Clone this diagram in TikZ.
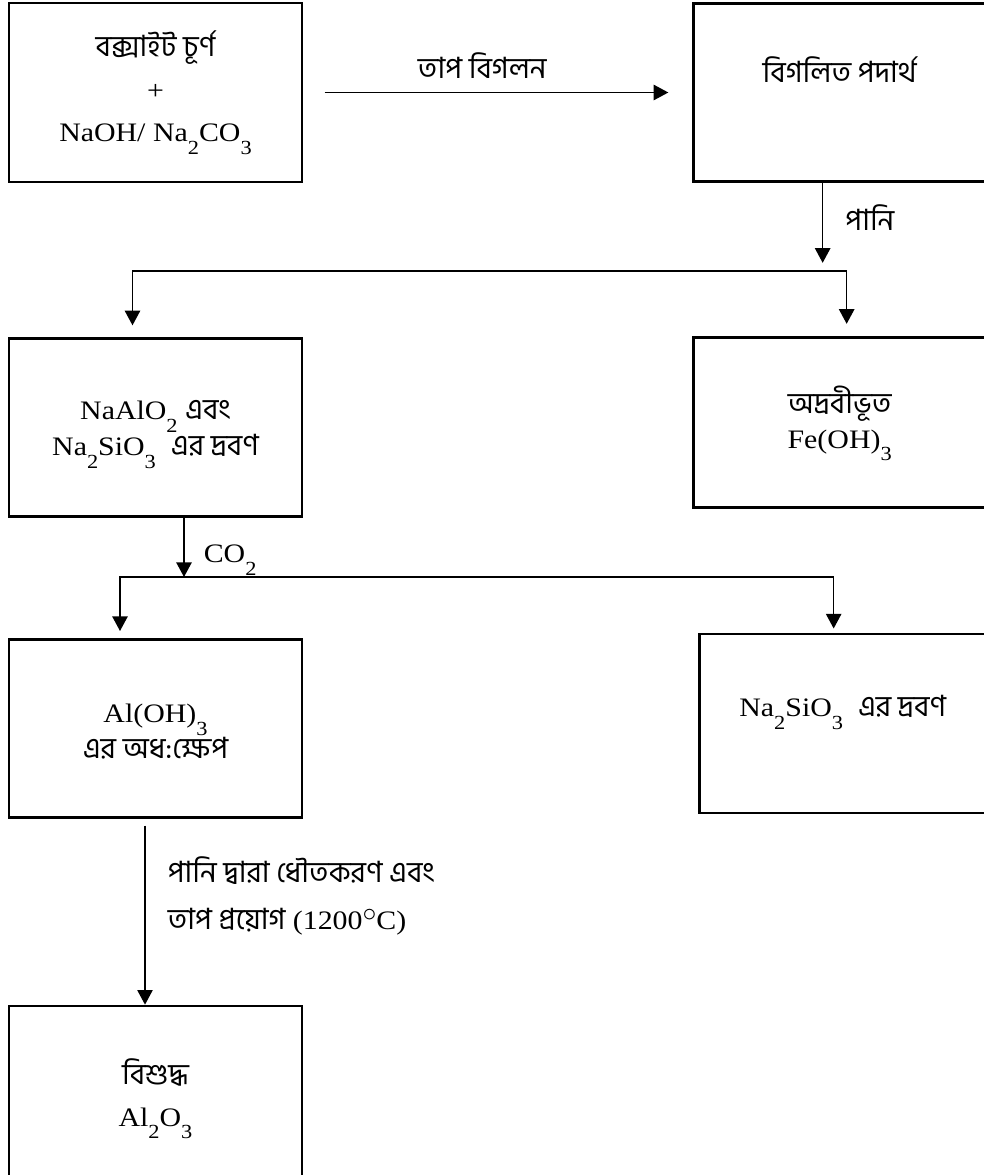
\documentclass[tikz,border=0pt]{standalone}
\usepackage{fontspec}
\setmainfont{Liberation Serif}[FakeStretch=1.12]
\newfontfamily\bn[Script=Bengali, Scale=1.1]{Hind Siliguri}
\usepackage{tikz}
\usetikzlibrary{positioning,arrows.meta,calc}

% chemical subscripts sit low and fairly large
\newcommand{\chsub}[1]{\raisebox{-0.48em}{\fontsize{15}{15}\selectfont #1}}
\newcommand{\degc}{\raisebox{0.3em}{$\circ$}}
\newcommand{\tightlines}{\lineskiplimit=-20pt\relax}

\tikzset{
  every node/.style={font={\fontsize{20}{24}\selectfont\tightlines}},
  % --- nodes
  stage/.style = {draw, line width=2pt, align=center, inner sep=0pt,
                  minimum width=219.75pt, minimum height=133.5pt},
  sink/.style  = {text height=#1, text depth=0pt},   % last baseline #1/2 below centre
  lift/.style  = {text height=0pt, text depth=#1},   % baseline #1/2 above centre
  cue/.style   = {inner sep=0pt},
  % --- edges
  flow/.style  = {-{Triangle[length=11pt,width=11.5pt]}, line width=1.2pt},
}

\begin{document}
\begin{tikzpicture}[x=0.75pt, y=-0.75pt]
  \useasboundingbox (0,0) rectangle (984,1175);

  % ------------------------------------------------------------------ fusion
  \node[stage, sink=74pt, minimum height=134.25pt] (bauxite) at (155.5,92.5) {%
    {\bn বক্সাইট চূর্ণ}\\[8pt] +\\[8pt] NaOH/ Na\chsub{2}CO\chsub{3}};
  \node[stage, lift=15pt, minimum width=219pt, right=291.75pt of bauxite] (melt)
    {\bn বিগলিত পদার্থ};

  % ------------------------------------------------------------------ leaching
  \node[stage, sink=42pt, below=115.5pt of bauxite] (aluminate) {%
    NaAlO\chsub{2} {\bn এবং}\\[3pt] Na\chsub{2}SiO\chsub{3}\ \ {\bn এর দ্রবণ}};
  \node[stage, sink=39pt, minimum width=219pt, minimum height=127.5pt,
        below=114.75pt of melt] (residue) {%
    {\bn অদ্রবীভূত}\\[2pt] Fe(OH)\chsub{3}};

  % ------------------------------------------------------------------ carbonation
  \node[stage, sink=45pt, below=90pt of aluminate] (precip) {%
    Al(OH)\chsub{3}\\[3pt] {\bn এর অধ:ক্ষেপ}};
  \node[stage, lift=9.75pt, minimum width=214.5pt, minimum height=134.25pt,
        below=93pt of residue, xshift=2.25pt] (silicate) {%
    Na\chsub{2}SiO\chsub{3}\ \ {\bn এর দ্রবণ}};

  % ------------------------------------------------------------------ calcination
  \node[stage, sink=48.75pt, minimum height=131.25pt, below=139.5pt of precip] (alumina) {%
    {\bn বিশুদ্ধ}\\[7pt] Al\chsub{2}O\chsub{3}};

  % ------------------------------------------------- heat fusion
  \draw[flow, shorten <=16pt, shorten >=18pt]
    (bauxite.east) -- node[cue, pos=0.46, anchor=base, yshift=10.5pt] {\bn তাপ বিগলন}
    (bauxite.east -| melt.west);

  % ------------------------------------------------- water, then split
  \coordinate (fork1) at ($(melt.south)+(-17,88)$);
  \draw[flow] ($(melt.south)+(-17,0)$) --
    node[cue, pos=0.6, anchor=base west, xshift=16.5pt] {\bn পানি}
    ($(fork1)+(0,-8)$);
  \draw[flow] (fork1) -| ($(aluminate.north)+(-23,-12)$);
  \draw[flow] (fork1) -| ($(residue.north)+(7,-12)$);

  % ------------------------------------------------- CO2, then split
  \coordinate (fork2) at ($(aluminate.south)+(28.5,59)$);
  \draw[flow] ($(aluminate.south)+(28.5,0)$) --
    node[cue, pos=0.75, anchor=base west, xshift=14.25pt] {CO\chsub{2}}
    (fork2);
  \draw[flow] (fork2) -| ($(precip.north)+(-35.5,-7)$);
  \draw[flow] (fork2) -| ($(silicate.north)+(-9,-4)$);

  % ------------------------------------------------- washing and heating
  \draw[flow] ($(precip.south)+(-10.5,7)$) --
    node[cue, pos=0.58, anchor=base west, xshift=16.5pt, align=left]
      {{\bn পানি দ্বারা ধৌতকরণ এবং}\\[11pt] {\bn তাপ প্রয়োগ} (1200\degc C)}
    ($(alumina.north)+(-10.5,0)$);
\end{tikzpicture}
\end{document}
